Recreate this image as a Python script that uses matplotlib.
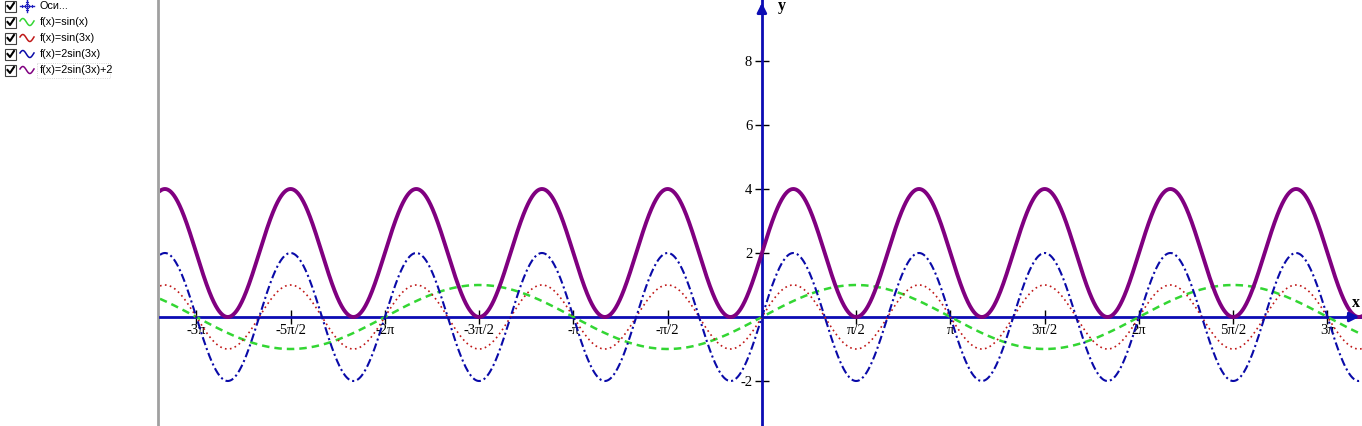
import numpy as np
import matplotlib.pyplot as plt

# Functions shown: f(x) = a*sin(k*x) + c
labels = ["f(x)=sin(x)", "f(x)=sin(3x)", "f(x)=2sin(3x)", "f(x)=2sin(3x)+2"]
amps = [1, 1, 2, 2]
freqs = [1, 3, 3, 3]
offsets = [0, 0, 0, 2]
colors = ["#33d633", "#c01818", "#0a0aa8", "#800080"]
styles = [(0, (3, 2)), (0, (1, 2)), (0, (4, 1.5, 1, 1.5)), "-"]
widths = [1.8, 1.2, 1.5, 2.8]

# Axis ticks
xtick_mult = [-6, -5, -4, -3, -2, -1, 1, 2, 3, 4, 5, 6]
xtick_labels = ["-3π", "-5π/2", "-2π", "-3π/2", "-π", "-π/2",
                "π/2", "π", "3π/2", "2π", "5π/2", "3π"]
yticks = [-2, 2, 4, 6, 8]

W, H = 1362, 426
axis_blue = "#0c0cb4"

fig = plt.figure(figsize=(W / 100, H / 100), dpi=100)
fig.patch.set_facecolor("white")

# Left panel (function list) in pixel coordinates
panel = fig.add_axes([0, 0, 1, 1])
panel.set_xlim(0, W)
panel.set_ylim(H, 0)
panel.axis("off")
panel.plot([157.5, 157.5], [0, H], color="#a0a0a0", lw=2)

rows_y = [6, 22, 38, 54, 70]
items = ["Оси..."] + labels
icon_colors = ["#2020c0"] + colors
for i, (yy, txt) in enumerate(zip(rows_y, items)):
    # checkbox
    panel.add_patch(plt.Rectangle((5, yy - 5.5), 11, 11, fill=False,
                                  edgecolor="#404040", lw=0.8))
    panel.plot([7.5, 10, 14], [yy, yy + 3, yy - 3], color="black", lw=1.5)
    # icon
    if i == 0:
        panel.plot([20, 34], [yy, yy], color=icon_colors[0], lw=1)
        panel.plot([27, 27], [yy - 6, yy + 6], color=icon_colors[0], lw=1)
        for t in [22, 25, 29, 32]:
            panel.plot([t, t], [yy - 1, yy + 1], color=icon_colors[0], lw=0.8)
        for t in [-4, -2, 2, 4]:
            panel.plot([26, 28], [yy + t, yy + t], color=icon_colors[0], lw=0.8)
    else:
        ix = np.linspace(20, 34, 40)
        panel.plot(ix, yy - 3.5 * np.sin((ix - 20) / 14 * 2 * np.pi + 0.3),
                   color=icon_colors[i], lw=1.1)
    panel.text(40, yy, txt, fontsize=7.8, family="Liberation Sans",
               va="center", ha="left", color="black")
panel.add_patch(plt.Rectangle((37, 63), 73, 15, fill=False,
                              edgecolor="#c8c8c8", lw=0.6, ls=":"))

# Graph area
ax = fig.add_axes([160 / W, 0, (W - 160) / W, 1])
xmin, xmax = -10.03, 10.0
ymin, ymax = -3.406, 9.906
ax.set_xlim(xmin, xmax)
ax.set_ylim(ymin, ymax)
ax.set_facecolor("none")

x = np.linspace(xmin, xmax, 3000)
for a, k, c, col, ls, lw in zip(amps, freqs, offsets, colors, styles, widths):
    ax.plot(x, a * np.sin(k * x) + c, color=col, ls=ls, lw=lw, zorder=3)

for s in ["top", "right"]:
    ax.spines[s].set_visible(False)
ax.spines["left"].set_position(("data", 0))
ax.spines["bottom"].set_position(("data", 0))
for s in ["left", "bottom"]:
    ax.spines[s].set_color(axis_blue)
    ax.spines[s].set_linewidth(2)
    ax.spines[s].set_zorder(2)

ax.set_xticks(np.array(xtick_mult) * np.pi / 2)
ax.set_xticklabels(xtick_labels)
ax.set_yticks(yticks)
ax.set_yticklabels([str(v) for v in yticks])
ax.tick_params(axis="x", direction="inout", length=10, width=1,
               color="black", pad=0, labelsize=10.5)
ax.tick_params(axis="y", direction="inout", length=10, width=1,
               color="black", pad=2, labelsize=10.5)
for lab in ax.get_xticklabels() + ax.get_yticklabels():
    lab.set_family("Liberation Serif")

# arrow heads
ax.annotate("", xy=(0, ymax), xytext=(0, ymax - 0.5),
            arrowprops=dict(arrowstyle="-|>", color=axis_blue, lw=2,
                            mutation_scale=14), annotation_clip=False)
ax.annotate("", xy=(xmax, 0), xytext=(xmax - 0.3, 0),
            arrowprops=dict(arrowstyle="-|>", color=axis_blue, lw=2,
                            mutation_scale=14), annotation_clip=False)
ax.text(0.27, ymax - 0.2, "y", fontsize=11.5, fontweight="bold",
        family="Liberation Serif", va="center", ha="left")
ax.text(xmax - 0.1, 0.45, "x", fontsize=11.5, fontweight="bold",
        family="Liberation Serif", va="center", ha="center")

fig.savefig("out.png", dpi=100)
